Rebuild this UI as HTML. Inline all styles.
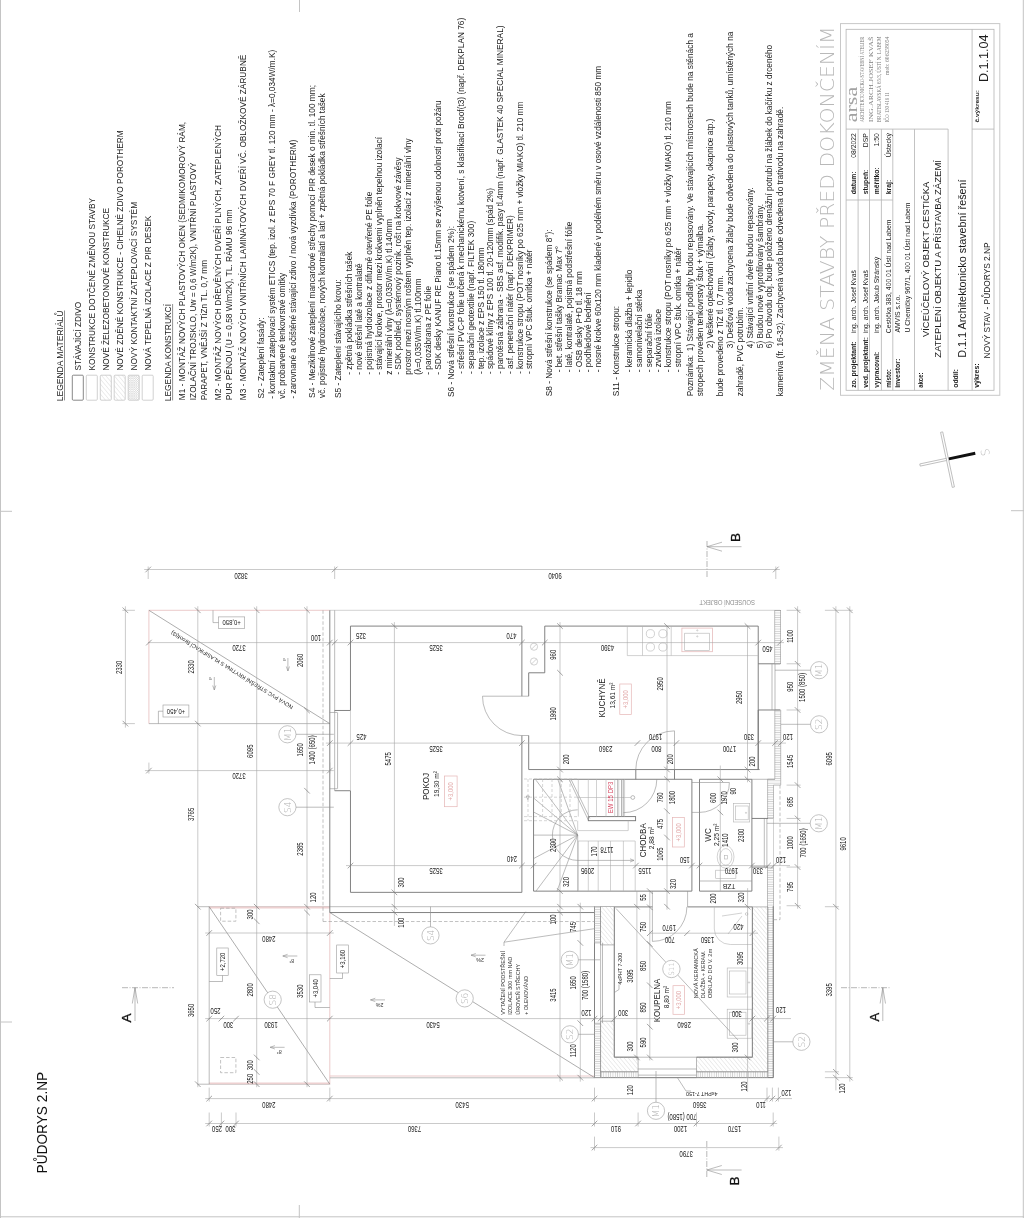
<!DOCTYPE html>
<html lang="cs"><head><meta charset="utf-8"><title>PŮDORYS 2.NP</title>
<style>
html,body{margin:0;padding:0;background:#fff}
svg{display:block;opacity:.999;will-change:transform}
text{font-family:"Liberation Sans",sans-serif;fill:#1c1c1c}
path,rect,circle,ellipse{fill:none}
.t{stroke:#8f8f8f;stroke-width:.6}
.g{stroke:#b4b4b4;stroke-width:.6}
.w{stroke:#747474;stroke-width:.9}
.m{stroke:#777;stroke-width:.6}
.d{stroke:#a6a6a6;stroke-width:.6}
.k{stroke:#666;stroke-width:.6}
.pk{stroke:#e6bcbc;stroke-width:.8}
.pk2{stroke:#edd0d0;stroke-width:1.8}
.ds{stroke:#999;stroke-width:.6;stroke-dasharray:3.5 2}
.ds2{stroke:#bbb;stroke-width:.6;stroke-dasharray:3 2}
.dd{stroke:#888;stroke-width:.6;stroke-dasharray:6 1.5 1 1.5}
.bd{stroke:#c4c4c4;stroke-width:1}
.ul{stroke:#444;stroke-width:.6}
.lb0{stroke:#6a6a6a;stroke-width:.8}
.lb{stroke:#bdbdbd;stroke-width:.7}
.tb0{stroke:#c8c8c8;stroke-width:1}
.tb{stroke:#b4b4b4;stroke-width:.8}
.na{stroke:#aaa;stroke-width:.7;fill:#fff}
.rc{stroke:#aaa;stroke-width:.7;fill:#fff}
.rt{fill:#b0b0b0;font-family:"DejaVu Sans Light","DejaVu Sans","Liberation Sans",sans-serif;font-weight:200}
.tg{stroke:#9a9a9a;stroke-width:.6;fill:#fff}
.tgp{stroke:#e5b5b5;stroke-width:.7;fill:#fff}
.pkt{fill:#e2a9a9}
.rd{fill:#d6455f}
.ins{stroke:#949494;stroke-width:.6;fill:url(#hi)}
.insh{stroke:#949494;stroke-width:.6;fill:url(#hj)}
.hm{stroke:#8a8a8a;stroke-width:.6;fill:url(#hd)}
.b{font-weight:bold}
.big{fill:#b9b9b9;font-family:"DejaVu Sans Light","DejaVu Sans","Liberation Sans",sans-serif;font-weight:200}
.lg{fill:#7d7d7d;font-family:"Liberation Serif",serif}
.lg2{fill:#a2a2a2;font-family:"Liberation Serif",serif}
.gy{fill:#a8a8a8}
.gy2{fill:#8e8e8e}
.sm{fill:#333}
.sm2{fill:#222}
.sec{fill:#111;stroke:#111;stroke-width:.3}
.ttl{fill:#111}
</style></head>
<body>
<svg width="1024" height="1218" viewBox="0 0 1024 1218">
<defs>
<pattern id="hd" width="3.2" height="3.2" patternUnits="userSpaceOnUse" patternTransform="rotate(50)"><rect width="3.2" height="3.2" fill="#fff"/><path d="M0 0H3.2" stroke="#c4c4c4" stroke-width=".6"/></pattern>
<pattern id="hx" width="2.2" height="2.2" patternUnits="userSpaceOnUse"><rect width="2.2" height="2.2" fill="#fff"/><path d="M0 0L2.2 2.2M2.2 0L0 2.2" stroke="#cdcdcd" stroke-width=".45"/></pattern>
<pattern id="hi" width="2.3" height="2.3" patternUnits="userSpaceOnUse"><rect width="2.3" height="2.3" fill="#fff"/><path d="M0 1.15H2.3" stroke="#cfcfcf" stroke-width=".9"/></pattern>
<pattern id="hj" width="2.3" height="2.3" patternUnits="userSpaceOnUse"><rect width="2.3" height="2.3" fill="#fff"/><path d="M1.15 0V2.3" stroke="#cfcfcf" stroke-width=".9"/></pattern>
</defs>
<g class="bd">
<path class="bd" d="M0.5 0L0.5 1218"/>
<path class="bd" d="M0 1216.8L1024 1216.8"/>
<path class="bd" d="M1023.3 0L1023.3 1218"/>
<path class="bd" d="M0 511.3L12 511.3"/>
<path class="bd" d="M0 1022L12 1022"/>
<path class="bd" d="M1011 510.7L1024 510.7"/>
<path class="bd" d="M299.5 0L299.5 12"/>
<path class="bd" d="M299.3 1205L299.3 1218"/>
</g>
<text transform="translate(62.9 401.3) rotate(-90)" font-size="8.28" textLength="90.8" lengthAdjust="spacingAndGlyphs">LEGENDA MATERIÁLŮ</text>
<path class="ul" d="M64.5 400.4L64.5 310.5"/>
<text transform="translate(81.3 370.6) rotate(-90)" font-size="8.28">STÁVAJÍCÍ ZDIVO</text>
<rect class="lb0" x="72.3" y="375.2" width="11" height="25" rx="1"/>
<text transform="translate(95.15 370.6) rotate(-90)" font-size="8.28" textLength="172.6" lengthAdjust="spacingAndGlyphs">KONSTRUKCE DOTČENÉ ZMĚNOU STAVBY</text>
<rect class="lb" x="86.3" y="375.2" width="11" height="25" rx="1"/>
<text transform="translate(109 370.6) rotate(-90)" font-size="8.28" textLength="162.6" lengthAdjust="spacingAndGlyphs">NOVÉ ŽELEZOBETONOVÉ KONSTRUKCE</text>
<rect class="lb" x="100.3" y="375.2" width="11" height="25" rx="1" style="fill:url(#hd)"/>
<text transform="translate(122.85 370.6) rotate(-90)" font-size="8.28" textLength="240.3" lengthAdjust="spacingAndGlyphs">NOVÉ ZDĚNÉ KONSTRUKCE - CIHELNÉ ZDIVO POROTHERM</text>
<rect class="lb" x="114.2" y="375.2" width="11" height="25" rx="1" style="fill:url(#hd)"/>
<text transform="translate(136.7 370.6) rotate(-90)" font-size="8.28" textLength="168.7" lengthAdjust="spacingAndGlyphs">NOVÝ KONTAKTNÍ ZATEPLOVACÍ SYSTÉM</text>
<rect class="lb" x="128.2" y="375.2" width="11" height="25" rx="1" style="fill:url(#hx)"/>
<text transform="translate(150.55 370.6) rotate(-90)" font-size="8.28" textLength="154.8" lengthAdjust="spacingAndGlyphs">NOVÁ TEPELNÁ IZOLACE Z PIR DESEK</text>
<rect class="lb" x="142.2" y="375.2" width="11" height="25" rx="1"/>
<text transform="translate(171 401.3) rotate(-90)" font-size="8.28" textLength="97.3" lengthAdjust="spacingAndGlyphs">LEGENDA KONSTRUKCÍ</text>
<path class="ul" d="M172.6 400.4L172.6 304"/>
<text transform="translate(185 400.2) rotate(-90)" font-size="8.28" textLength="278.3" lengthAdjust="spacingAndGlyphs">M1 - MONTÁŽ NOVÝCH PLASTOVÝCH OKEN (SEDMIKOMOROVÝ RÁM,</text>
<text transform="translate(195.7 400.2) rotate(-90)" font-size="8.28" textLength="237.7" lengthAdjust="spacingAndGlyphs">IZOLAČNÍ TROJSKLO, Uw = 0,6 W/m2K), VNITŘNÍ PLASTOVÝ</text>
<text transform="translate(206.6 400.2) rotate(-90)" font-size="8.28">PARAPET, VNĚJŠÍ Z TiZn TL. 0,7 mm</text>
<text transform="translate(221.2 400.2) rotate(-90)" font-size="8.28" textLength="275.2" lengthAdjust="spacingAndGlyphs">M2 - MONTÁŽ NOVÝCH DŘEVĚNÝCH DVEŘÍ PLNÝCH, ZATEPLENÝCH</text>
<text transform="translate(231.9 400.2) rotate(-90)" font-size="8.28" textLength="190.7" lengthAdjust="spacingAndGlyphs">PUR PĚNOU (U = 0,58 W/m2K), TL. RÁMU 96 mm</text>
<text transform="translate(245.5 400.2) rotate(-90)" font-size="8.28" textLength="345.6" lengthAdjust="spacingAndGlyphs">M3 - MONTÁŽ NOVÝCH VNITŘNÍCH LAMINÁTOVÝCH DVEŘÍ VČ. OBLOŽKOVÉ ZÁRUBNĚ</text>
<text transform="translate(263.9 398.4) rotate(-90)" font-size="8.28">S2 - Zateplení fasády:</text>
<text transform="translate(274.7 398.7) rotate(-90)" font-size="8.28" textLength="348.9" lengthAdjust="spacingAndGlyphs">- kontaktní zateplovací systém ETICS (tep. izol. z EPS 70 F GREY tl. 120 mm - λ=0,034W/m.K)</text>
<text transform="translate(285.3 398.7) rotate(-90)" font-size="8.28">vč. probarvené tenkovrstvé omítky</text>
<text transform="translate(296 398.7) rotate(-90)" font-size="8.28" textLength="259" lengthAdjust="spacingAndGlyphs">- zarovnané a očištěné stávající zdivo / nová vyzdívka (POROTHERM)</text>
<text transform="translate(315.2 397.9) rotate(-90)" font-size="8.28" textLength="312.9" lengthAdjust="spacingAndGlyphs">S4 - Mezikilnové zateplení mancardové střechy pomocí PIR desek o min. tl. 100 mm;</text>
<text transform="translate(325.3 397.9) rotate(-90)" font-size="8.28" textLength="304.5" lengthAdjust="spacingAndGlyphs">vč. pojistné hydroizolace, nových kontralatí a latí + zpětná pokládka střešních tašek</text>
<text transform="translate(341.4 397.9) rotate(-90)" font-size="8.28">S5 - Zateplení stávajícího krovu:</text>
<text transform="translate(352.3 374.7) rotate(-90)" font-size="8.28">- zpětná pokládka střešních tašek</text>
<text transform="translate(362.11 374.7) rotate(-90)" font-size="8.28">- nové střešní latě a kontralatě</text>
<text transform="translate(371.92 374.7) rotate(-90)" font-size="8.28" textLength="183" lengthAdjust="spacingAndGlyphs">- pojistná hydroizolace z difuzně otevřené PE folie</text>
<text transform="translate(381.73 374.7) rotate(-90)" font-size="8.28" textLength="237.7" lengthAdjust="spacingAndGlyphs">- stávající krokve, prostor mezi krokvemi vyplněn tepelnou izolací</text>
<text transform="translate(391.54 374.7) rotate(-90)" font-size="8.28">z minerální vlny (λ=0,035W/m.K) tl.140mm</text>
<text transform="translate(401.35 374.7) rotate(-90)" font-size="8.28" textLength="217.3" lengthAdjust="spacingAndGlyphs">- SDK podhled, systémový pozink. rošt na krokvové závěsy</text>
<text transform="translate(411.16 374.7) rotate(-90)" font-size="8.28" textLength="236.3" lengthAdjust="spacingAndGlyphs">prostor mezi nosným roštem vyplněn tep. izolací z minerální vlny</text>
<text transform="translate(420.97 374.7) rotate(-90)" font-size="8.28">(λ=0,035W/m.K) tl.100mm</text>
<text transform="translate(430.78 374.7) rotate(-90)" font-size="8.28">- parozábrana z PE folie</text>
<text transform="translate(440.59 374.7) rotate(-90)" font-size="8.28" textLength="274.4" lengthAdjust="spacingAndGlyphs">- SDK desky KANUF RE Piano tl.15mm se zvýšenou odolností proti požáru</text>
<text transform="translate(454.4 396.9) rotate(-90)" font-size="8.28">S6 - Nová střešní konstrukce (se spádem 2%):</text>
<text transform="translate(464.3 374.1) rotate(-90)" font-size="8.28" textLength="356.3" lengthAdjust="spacingAndGlyphs">- střešní PVC-P folie určená k mechanickému kotvení, s klasifikací Broof(t3) (např. DEKPLAN 76)</text>
<text transform="translate(474.02 374.1) rotate(-90)" font-size="8.28">- separační geotextilie (např. FILTEK 300)</text>
<text transform="translate(483.74 374.1) rotate(-90)" font-size="8.28">- tep. izolace z EPS 150 tl. 180mm</text>
<text transform="translate(493.46 374.1) rotate(-90)" font-size="8.28" textLength="186.1" lengthAdjust="spacingAndGlyphs">- spádové klíny z EPS 100 tl. 20-120mm (spád 2%)</text>
<text transform="translate(503.18 374.1) rotate(-90)" font-size="8.28" textLength="348.7" lengthAdjust="spacingAndGlyphs">- parotěsná zábrana - SBS asf. modifik. pasy tl.4mm (např. GLASTEK 40 SPECIAL MINERAL)</text>
<text transform="translate(512.9 374.1) rotate(-90)" font-size="8.28">- asf. penetrační nátěr (např. DEKPRIMER)</text>
<text transform="translate(522.62 374.1) rotate(-90)" font-size="8.28" textLength="272.5" lengthAdjust="spacingAndGlyphs">- konstrukce stropu (POT nosníky po 625 mm + vložky MIAKO) tl. 210 mm</text>
<text transform="translate(532.34 374.1) rotate(-90)" font-size="8.28">- stropní VPC štuk. omítka + nátěr</text>
<text transform="translate(552 396.2) rotate(-90)" font-size="8.28">S8 - Nová střešní konstrukce (se spádem 8°):</text>
<text transform="translate(561.9 372.3) rotate(-90)" font-size="8.28">- bet. střešní tašky Bramac Max 7°</text>
<text transform="translate(571.7 372.3) rotate(-90)" font-size="8.28">- latě, kontralatě, pojistná podstřešní fólie</text>
<text transform="translate(581.5 372.3) rotate(-90)" font-size="8.28">- OSB desky P+D tl. 18 mm</text>
<text transform="translate(591.3 372.3) rotate(-90)" font-size="8.28">- podhledové bednění</text>
<text transform="translate(601.1 372.3) rotate(-90)" font-size="8.28" textLength="306.4" lengthAdjust="spacingAndGlyphs">- nosné krokve 60x120 mm kladené v podélném směru v osové vzdálenosti 850 mm</text>
<text transform="translate(619.3 396.2) rotate(-90)" font-size="8.28">S11 - Konstrukce stropu:</text>
<text transform="translate(632.2 372.3) rotate(-90)" font-size="8.28">- keramická dlažba + lepidlo</text>
<text transform="translate(641.9 372.3) rotate(-90)" font-size="8.28">- samonivelační stěrka</text>
<text transform="translate(651.6 372.3) rotate(-90)" font-size="8.28">- separační fólie</text>
<text transform="translate(661.3 372.3) rotate(-90)" font-size="8.28">- zvuková izolace</text>
<text transform="translate(671 372.3) rotate(-90)" font-size="8.28" textLength="271.3" lengthAdjust="spacingAndGlyphs">- konstrukce stropu (POT nosníky po 625 mm + vložky MIAKO) tl. 210 mm</text>
<text transform="translate(680.7 372.3) rotate(-90)" font-size="8.28">- stropní VPC štuk. omítka + nátěr</text>
<text transform="translate(693.4 396.2) rotate(-90)" font-size="8.28">Poznámka:</text>
<text transform="translate(693.4 351.2) rotate(-90)" font-size="8.28" textLength="318.2" lengthAdjust="spacingAndGlyphs">1) Stávající podlahy budou repasovány. Ve stávajících místnostech bude na stěnách a</text>
<text transform="translate(703.4 396.2) rotate(-90)" font-size="8.28">stropech proveden tenkovrstvý štuk + výmalba.</text>
<text transform="translate(713.4 348.2) rotate(-90)" font-size="8.28" textLength="229.6" lengthAdjust="spacingAndGlyphs">2) Veškeré oplechování (žlaby, svody, parapety, okapnice atp.)</text>
<text transform="translate(723.3 396.2) rotate(-90)" font-size="8.28">bude provedeno z TiZ tl. 0,7 mm.</text>
<text transform="translate(733.3 348.2) rotate(-90)" font-size="8.28" textLength="316.6" lengthAdjust="spacingAndGlyphs">3) Dešťová voda zachycena žlaby bude odvedena do plastových tanků, umístěných na</text>
<text transform="translate(743.2 396.2) rotate(-90)" font-size="8.28">zahradě, PVC potrubím.</text>
<text transform="translate(752.8 348.2) rotate(-90)" font-size="8.28" textLength="161" lengthAdjust="spacingAndGlyphs">4) Stávající vnitřní dveře budou repasovány.</text>
<text transform="translate(762.5 348.2) rotate(-90)" font-size="8.28" textLength="144.2" lengthAdjust="spacingAndGlyphs">5) Budou nově vyprofilovány šambrány.</text>
<text transform="translate(772.2 348.2) rotate(-90)" font-size="8.28" textLength="303.4" lengthAdjust="spacingAndGlyphs">6) Po obvodu obj. bude položeno drenážní potrubí na žlábek do kačírku z drceného</text>
<text transform="translate(783 396.2) rotate(-90)" font-size="8.28" textLength="289.4" lengthAdjust="spacingAndGlyphs">kameniva (fr. 16-32). Zachycená voda bude odvedena do trativodu na zahradě.</text>
<text transform="translate(833.8 390.8) rotate(-90)" font-size="19.6" class="big" textLength="364.5" lengthAdjust="spacingAndGlyphs">ZMĚNA STAVBY PŘED DOKONČENÍM</text>
<rect class="tb0" x="840.5" y="23.6" width="159.3" height="371.7"/>
<rect class="tb" x="846.1" y="29.3" width="147.9" height="361"/>
<path class="tb" d="M858.1 129.1L858.1 390.3"/>
<path class="tb" d="M869.5 129.1L869.5 390.3"/>
<path class="tb" d="M881.4 129.1L881.4 390.3"/>
<path class="tb" d="M892.8 129.1L892.8 390.3"/>
<path class="tb" d="M914.5 129.1L914.5 390.3"/>
<path class="tb" d="M948.1 129.1L948.1 390.3"/>
<path class="tb" d="M972.1 29.3L972.1 390.3"/>
<path class="tb" d="M846.1 129.1L948.1 129.1"/>
<path class="tb" d="M972.1 129.1L994 129.1"/>
<path class="tb" d="M846.1 200L892.8 200"/>
<text transform="translate(856.3 387.8) rotate(-90)" font-size="6.8" class="b" textLength="46.6" lengthAdjust="spacingAndGlyphs">zo. projektant:</text>
<text transform="translate(856.3 333.2) rotate(-90)" font-size="6.8">ing. arch. Josef Kvaš</text>
<text transform="translate(856.3 194.2) rotate(-90)" font-size="6.8" class="b">datum:</text>
<text transform="translate(856.3 133.2) rotate(-90)" font-size="6.8" text-anchor="end">08/2022</text>
<text transform="translate(867.7 387.8) rotate(-90)" font-size="6.8" class="b" textLength="50.7" lengthAdjust="spacingAndGlyphs">ved. projektant:</text>
<text transform="translate(867.7 333.2) rotate(-90)" font-size="6.8">ing. arch. Josef Kvaš</text>
<text transform="translate(867.7 194.2) rotate(-90)" font-size="6.8" class="b">stupeň:</text>
<text transform="translate(867.7 133.2) rotate(-90)" font-size="6.8" text-anchor="end">DSP</text>
<text transform="translate(879.1 387.8) rotate(-90)" font-size="6.8" class="b" textLength="35.9" lengthAdjust="spacingAndGlyphs">vypracoval:</text>
<text transform="translate(879.1 333.2) rotate(-90)" font-size="6.8">ing. arch. Jakub Stránský</text>
<text transform="translate(879.1 194.2) rotate(-90)" font-size="6.8" class="b">měřítko:</text>
<text transform="translate(879.1 133.2) rotate(-90)" font-size="6.8" text-anchor="end">1:50</text>
<text transform="translate(890.5 387.8) rotate(-90)" font-size="6.8" class="b" textLength="18.7" lengthAdjust="spacingAndGlyphs">místo:</text>
<text transform="translate(890.5 333.2) rotate(-90)" font-size="6.8">Cestička 383, 400 01 Ústí nad Labem</text>
<text transform="translate(890.5 194.2) rotate(-90)" font-size="6.8" class="b">kraj:</text>
<text transform="translate(890.5 133.2) rotate(-90)" font-size="6.8" text-anchor="end">Ústecký</text>
<text transform="translate(900.4 387.8) rotate(-90)" font-size="6.8" class="b" textLength="29" lengthAdjust="spacingAndGlyphs">investor:</text>
<text transform="translate(900.4 332.6) rotate(-90)" font-size="6.8">AMVIS s.r.o.</text>
<text transform="translate(910 332.6) rotate(-90)" font-size="6.8">U Chemičky 967/1, 400 01 Ústí nad Labem</text>
<text transform="translate(923.2 387.8) rotate(-90)" font-size="6.8" class="b" textLength="15.3" lengthAdjust="spacingAndGlyphs">akce:</text>
<text transform="translate(929 337) rotate(-90)" font-size="9.6" textLength="155.3" lengthAdjust="spacingAndGlyphs">VÍCEÚČELOVÝ OBJEKT CESTIČKA</text>
<text transform="translate(940.8 357.7) rotate(-90)" font-size="9.6" textLength="197.7" lengthAdjust="spacingAndGlyphs">ZATEPLENÍ OBJEKTU A PŘÍSTAVBA ZÁZEMÍ</text>
<text transform="translate(958 387.8) rotate(-90)" font-size="6.8" class="b" textLength="18.7" lengthAdjust="spacingAndGlyphs">oddíl:</text>
<text transform="translate(965.5 357.7) rotate(-90)" font-size="11" textLength="178.3" lengthAdjust="spacingAndGlyphs">D.1.1 Architektonicko stavební řešení</text>
<text transform="translate(978.5 387.8) rotate(-90)" font-size="6.8" class="b" textLength="24.5" lengthAdjust="spacingAndGlyphs">výkres:</text>
<text transform="translate(989.5 358.4) rotate(-90)" font-size="8.5" textLength="116.1" lengthAdjust="spacingAndGlyphs">NOVÝ STAV - PŮDORYS 2.NP</text>
<text transform="translate(978.7 122.6) rotate(-90)" font-size="5.8" class="b" textLength="32.6" lengthAdjust="spacingAndGlyphs">č.výkresu:</text>
<text transform="translate(988.4 82.1) rotate(-90)" font-size="12.9" textLength="47.6" lengthAdjust="spacingAndGlyphs">D.1.1.04</text>
<text transform="translate(857.4 122.3) rotate(-90)" font-size="17" class="lg2" textLength="35.5" lengthAdjust="spacingAndGlyphs">arsa</text>
<text transform="translate(863.8 122.3) rotate(-90)" font-size="6.2" class="lg" textLength="85.7" lengthAdjust="spacingAndGlyphs">ARCHITEKTONICKO-STAVEBNÍ ATELIER</text>
<text transform="translate(872.5 122.3) rotate(-90)" font-size="6.6" class="lg" textLength="85.7" lengthAdjust="spacingAndGlyphs">ING.ARCH.JOSEF KVAŠ</text>
<text transform="translate(880.9 122.3) rotate(-90)" font-size="6.2" class="lg" textLength="85.7" lengthAdjust="spacingAndGlyphs">BRATISLAVSKÁ 65/3, ÚSTÍ N. LABEM</text>
<text transform="translate(888.9 122.3) rotate(-90)" font-size="6.2" class="lg" textLength="30" lengthAdjust="spacingAndGlyphs">IČO 130 416 11</text>
<text transform="translate(888.9 75) rotate(-90)" font-size="6.2" class="lg" textLength="38.4" lengthAdjust="spacingAndGlyphs">mob: 606258054</text>
<g transform="translate(947.4 459.2) rotate(-12)">
<rect class="na" x="-1.1" y="-27.7" width="2.2" height="56.3"/>
<rect class="na" x="-28" y="-1.1" width="27" height="2.2"/>
<rect x="1.5" y="-1.5" width="27" height="3" style="fill:#111"/>
</g>
<text transform="translate(989.3 451.5) rotate(-102)" font-size="11.5" text-anchor="middle" class="big">S</text>
<path class="pk" d="M148.9 723.61L148.9 610.3L329.8 610.3"/>
<path class="t" d="M148.9 723.61L329.8 723.61"/>
<path class="m" d="M148.9 610.3L329.8 723.61"/>
<text transform="translate(293.5 706.2) rotate(212)" font-size="5.4" class="sm2" textLength="142.7" lengthAdjust="spacingAndGlyphs">NOVÁ PVC STŘEŠNÍ KRYTINA S KLASIFIKACÍ Broof(t3)</text>
<rect class="tg" x="218.6" y="616.9" width="26.1" height="11.5"/>
<text transform="translate(231.65 620.15) rotate(180) scale(0.85 1)" font-size="7" text-anchor="middle">+0,850</text>
<path class="t" d="M213 610.3L213 622.6L218.6 622.6"/>
<rect class="tg" x="163" y="705" width="25.9" height="12"/>
<text transform="translate(175.95 708.5) rotate(180) scale(0.85 1)" font-size="7" text-anchor="middle">+0,450</text>
<path class="t" d="M158.4 723.61L158.4 711.2L163 711.2"/>
<path class="t" d="M287.9 658L287.9 671"/>
<path class="t" d="M286.3 666.5L287.9 671L289.5 666.5"/>
<text transform="translate(285.7 659.5) rotate(-90) scale(0.71 1)" font-size="4.2" text-anchor="middle" class="sm">8°</text>
<path class="t" d="M214.3 677L214.3 690"/>
<path class="t" d="M212.7 685.5L214.3 690L215.9 685.5"/>
<text transform="translate(212.1 678.5) rotate(-90) scale(0.71 1)" font-size="4.2" text-anchor="middle" class="sm">8°</text>
<path class="t" d="M197.8 906.7L329.8 906.7"/>
<path class="t" d="M197.8 1084.2L329.8 1084.2"/>
<path class="pk2" d="M209.2 907.5L329.8 907.5"/>
<path class="pk2" d="M209.2 1083.4L329.8 1083.4"/>
<path class="t" d="M209.2 906.7L209.2 1084.2"/>
<path class="pk" d="M329.8 912.54L329.8 1084.2"/>
<path class="m" d="M209.2 906.7L329.8 1084.2"/>
<rect class="ds" x="220.6" y="908.2" width="15.3" height="13"/>
<rect class="ds" x="220.6" y="1057.5" width="15.3" height="15.2"/>
<rect class="tg" x="216.8" y="948" width="11.4" height="27.5"/>
<text transform="translate(225 961.75) rotate(-90) scale(0.85 1)" font-size="7" text-anchor="middle">+2,720</text>
<path class="t" d="M209.2 981.5L222.5 981.5L222.5 975.5"/>
<rect class="tg" x="336.7" y="945" width="11.7" height="28"/>
<text transform="translate(345.05 959) rotate(-90) scale(0.85 1)" font-size="7" text-anchor="middle">+3,160</text>
<path class="t" d="M329.8 978.5L342.5 978.5L342.5 973"/>
<rect class="tg" x="309.5" y="974.8" width="11.5" height="27.2"/>
<text transform="translate(317.75 988.4) rotate(-90) scale(0.85 1)" font-size="7" text-anchor="middle">+3,040</text>
<path class="t" d="M329.8 1007.5L315 1007.5L315 1002"/>
<path class="t" d="M297.3 956L282.8 956"/>
<path class="t" d="M287.6 954.3L282.8 956L287.6 957.7"/>
<text transform="translate(291.8 959) rotate(180) scale(0.9 1)" font-size="6" text-anchor="middle" class="sm">8°</text>
<path class="t" d="M284.6 1047.3L270.1 1047.3"/>
<path class="t" d="M274.9 1045.6L270.1 1047.3L274.9 1049"/>
<text transform="translate(279.1 1050.3) rotate(180) scale(0.9 1)" font-size="6" text-anchor="middle" class="sm">8°</text>
<path class="t" d="M485.5 955.2L471 955.2"/>
<path class="t" d="M475.8 953.5L471 955.2L475.8 956.9"/>
<text transform="translate(480 958.2) rotate(180) scale(0.9 1)" font-size="6" text-anchor="middle" class="sm">2%</text>
<path class="t" d="M385 999.9L370.5 999.9"/>
<path class="t" d="M375.3 998.2L370.5 999.9L375.3 1001.6"/>
<text transform="translate(379.5 1002.9) rotate(180) scale(0.9 1)" font-size="6" text-anchor="middle" class="sm">2%</text>
<path class="pk" d="M329.8 1076L594.5 1076"/>
<path class="t" d="M329.8 1077.8L594.5 1077.8"/>
<path class="m" d="M329.8 912.54L594.5 1077.63"/>
<path class="ds" d="M323 921.53L594.5 921.53"/>
<path class="ds" d="M323 610.3L323 921.53"/>
<text transform="translate(505.2 1014.8) rotate(-90)" font-size="5.3" class="sm" textLength="63.9" lengthAdjust="spacingAndGlyphs">VYTAŽENÍ PODSTŘEŠNÍ</text>
<text transform="translate(512.2 1014.8) rotate(-90)" font-size="5.3" class="sm" textLength="58" lengthAdjust="spacingAndGlyphs">IZOLACE 300 mm NAD</text>
<text transform="translate(519.8 1014.8) rotate(-90)" font-size="5.3" class="sm" textLength="51" lengthAdjust="spacingAndGlyphs">ÚROVEŇ STŘECHY</text>
<text transform="translate(527.5 1014.8) rotate(-90)" font-size="5.3" class="sm" textLength="38.7" lengthAdjust="spacingAndGlyphs">+ OLEMOVÁNO</text>
<path class="t" d="M504 946L504 942.2"/>
<path class="t" d="M504 942.2L525.7 911.7"/>
<path class="t" d="M504 942.2L594.3 928.7"/>
<path class="g" d="M329.8 610.3L780.12 610.3"/>
<path class="w" d="M329.8 610.3L329.8 912.54"/>
<path class="t" d="M334.67 610.3L334.67 711.48"/>
<path class="t" d="M329.8 906.7L594.5 906.7"/>
<path class="w" d="M329.8 912.54L594.5 912.54"/>
<path class="w" d="M350.47 710.48L350.47 626.1L521.89 626.1L521.89 696.2"/>
<path class="w" d="M521.89 735.5L521.89 892.35L350.47 892.35L350.47 790.72"/>
<path class="w" d="M350.47 710.48L334.67 710.48"/>
<path class="w" d="M350.47 790.72L334.67 790.72"/>
<path class="t" d="M334.67 710.48L334.67 790.72"/>
<path class="t" d="M337.57 712.48L337.57 788.72"/>
<path class="g" d="M350.47 710.48L350.47 790.72"/>
<path class="t" d="M329.8 712.48L337.27 712.48"/>
<path class="t" d="M329.8 788.72L337.27 788.72"/>
<path class="t" d="M482.5 696.2L528.7 696.2"/>
<path class="t" d="M521.89 735.5L528.7 735.5"/>
<path class="t" d="M482.49 696.2A39.4 39.4 0 0 0 521.89 735.6"/>
<path class="w" d="M544.75 626.1L758.23 626.1L758.23 769.56L528.7 769.56L528.7 735.5"/>
<path class="w" d="M528.7 696.2L528.7 672.79L544.75 672.79L544.75 626.1"/>
<path class="g" d="M627.3 655.6L758.23 655.6"/>
<path class="g" d="M627.3 626.1L627.3 655.6"/>
<path class="g" d="M642.5 626.1L642.5 655.6"/>
<path class="g" d="M671.2 626.1L671.2 655.6"/>
<circle class="g" cx="650.4" cy="633.7" r="4.1"/>
<circle class="g" cx="650.4" cy="647" r="4.1"/>
<circle class="g" cx="662.9" cy="633.7" r="4.1"/>
<circle class="g" cx="662.9" cy="647" r="4.1"/>
<rect class="pk" x="681.9" y="628.1" width="30.5" height="23.6"/>
<rect class="g" x="684.7" y="633.2" width="24.9" height="17.2"/>
<circle class="g" cx="697.3" cy="630.4" r="0.6"/>
<circle class="g" cx="697.3" cy="636.4" r="0.6"/>
<circle class="g" cx="534" cy="646.7" r="3.6"/>
<path class="g" d="M531.5 649.2L536.5 644.2"/>
<circle class="g" cx="534" cy="661.5" r="3.6"/>
<path class="g" d="M531.5 664L536.5 659"/>
<text transform="translate(755 600.2) rotate(180)" font-size="6.3" class="gy2" textLength="55.7" lengthAdjust="spacingAndGlyphs">SOUSEDNÍ OBJEKT</text>
<path class="w" d="M758.23 663.79L780.12 663.79"/>
<path class="w" d="M758.23 709.99L780.12 709.99"/>
<path class="w" d="M758.23 769.56L758.23 709.99"/>
<path class="t" d="M772 663.79L772 709.99"/>
<path class="t" d="M775 663.79L775 709.99"/>
<rect class="ins" x="774.8" y="610.3" width="5.9" height="53.49"/>
<path class="ins" d="M774.8 709.99L780.7 709.99L780.7 785.12L773.5 785.12L773.5 818.44L767.6 818.44L767.6 779.2L774.8 779.2Z"/>
<rect class="ins" x="767.6" y="867.07" width="5.9" height="210.57"/>
<path class="t" d="M764.3 818.44L764.3 867.07"/>
<path class="t" d="M766.9 818.44L766.9 867.07"/>
<path class="g" d="M773.5 818.44L773.5 867.07"/>
<path class="ds" d="M780 785.12L780 919.7L774 919.7"/>
<path class="w" d="M533.56 779.29L691.9 779.29L691.9 891.14L533.56 891.14Z"/>
<path class="w" d="M635.8 769.56L635.8 779.29"/>
<path class="w" d="M674.5 769.56L674.5 779.29"/>
<path class="t" d="M674.5 730.86A38.7 38.7 0 0 0 635.8 769.56"/>
<path class="t" d="M674.5 769.56L674.5 730.86"/>
<rect class="w" x="588.3" y="816.6" width="47.3" height="4.1"/>
<path class="g" d="M577.7 820.7L577.7 830.6L628.2 830.6L628.2 820.7"/>
<path class="t" d="M577.7 835.1L536 780.2"/>
<path class="t" d="M577.7 835.1L557.8 779.29"/>
<path class="t" d="M577.7 835.1L533.56 812"/>
<path class="t" d="M577.7 835.1L533.56 835.1"/>
<path class="t" d="M577.7 835.1L533.56 858.6"/>
<path class="t" d="M577.7 835.1L536 891.14"/>
<path class="t" d="M577.7 835.1L557 891.14"/>
<path class="t" d="M577.7 835.1L577.7 891.14"/>
<path class="t" d="M577.7 835.1L533.56 798"/>
<path class="t" d="M569 779.29L588.3 820.1"/>
<path class="t" d="M571 779.29L589.9 818.4"/>
<path class="g" d="M578.3 779.29L578.3 816.6"/>
<path class="g" d="M588.3 779.29L588.3 816.6"/>
<path class="g" d="M596.5 779.29L596.5 816.6"/>
<path class="g" d="M606 779.29L606 816.6"/>
<path class="g" d="M614.7 779.29L614.7 816.6"/>
<path class="g" d="M618.8 779.29L618.8 816.6"/>
<path class="g" d="M621.7 779.29L621.7 816.6"/>
<path class="g" d="M624.6 779.29L624.6 816.6"/>
<path class="g" d="M578.3 841L578.3 891.14"/>
<path class="g" d="M588.3 841L588.3 891.14"/>
<path class="g" d="M598.2 841L598.2 891.14"/>
<path class="g" d="M610.5 841L610.5 891.14"/>
<path class="g" d="M623.4 841L623.4 891.14"/>
<path class="g" d="M635.2 841L635.2 891.14"/>
<path class="g" d="M577.7 841L635.2 841"/>
<path class="t" d="M577.7 860.4A25.3 25.3 0 0 1 577.7 809.8"/>
<path class="t" d="M577.7 860.4L634 860.4"/>
<path class="t" d="M630 858.8L634 860.4L630 862"/>
<circle class="t" cx="632.8" cy="797.5" r="1.9"/>
<path class="g" d="M578 797.5L630.9 797.5"/>
<path class="ds2" d="M524 779L578 779"/>
<path class="ds2" d="M524 797.2L578 797.2"/>
<path class="ds2" d="M524 816.6L578 816.6"/>
<path class="ds2" d="M524 820.7L578 820.7"/>
<path class="ds2" d="M528 779L528 820.7"/>
<path class="ds2" d="M542.6 779L542.6 816.6"/>
<path class="ds2" d="M552 779L552 816.6"/>
<path class="ds2" d="M561.3 779L561.3 816.6"/>
<path class="ds2" d="M570 779L570 816.6"/>
<path class="t" d="M529.3 796L527.8 799.5L526.3 796Z"/>
<path class="t" d="M656.8 779.29A33.4 33.4 0 0 1 623.4 812.69"/>
<path class="t" d="M617.6 779.29L617.6 816.6"/>
<path class="t" d="M621.7 779.29L621.7 816.6"/>
<path class="t" d="M623.4 779.29L623.4 816.6"/>
<text transform="translate(613.1 797.4) rotate(-90) scale(0.88 1)" font-size="6.9" text-anchor="middle" class="rd">EW 15 DP3</text>
<text transform="translate(646 840.3) rotate(-90) scale(0.95 1)" font-size="8.4" text-anchor="middle">CHODBA</text>
<text transform="translate(653.6 838) rotate(-90) scale(0.92 1)" font-size="7.2" text-anchor="middle">2,88 m²</text>
<rect class="tgp" x="672.6" y="817.5" width="11.7" height="29.5"/>
<text transform="translate(680.95 832.25) rotate(-90) scale(0.85 1)" font-size="7" text-anchor="middle" class="pkt">+3,000</text>
<text transform="translate(596.8 851.4) rotate(-90) scale(0.71 1)" font-size="8.5" text-anchor="middle">170</text>
<text transform="translate(607 847.4) rotate(180) scale(0.71 1)" font-size="8.5" text-anchor="middle">1178</text>
<path class="w" d="M699.5 779.29L751.9 779.29L751.9 891.14L699.5 891.14Z"/>
<path class="t" d="M691.9 782.5L699.5 782.5"/>
<path class="t" d="M691.9 812.4L699.5 812.4"/>
<path class="t" d="M729.4 782.5A29.9 29.9 0 0 1 699.5 812.4"/>
<path class="t" d="M699.5 782.5L729.4 782.5"/>
<path class="t" d="M699.5 881L751.9 881"/>
<rect class="g" x="733.4" y="803.6" width="16.3" height="18.4"/>
<rect class="g" x="735.5" y="806" width="12.7" height="13.8"/>
<circle class="g" cx="746" cy="812.8" r="0.6"/>
<ellipse class="g" cx="725.6" cy="856.9" rx="8.4" ry="11.3"/>
<ellipse class="g" cx="725.8" cy="856.9" rx="6.1" ry="8.3"/>
<rect class="g" x="724.3" y="855.5" width="3" height="3.5"/>
<rect class="g" x="715.7" y="870.2" width="20.2" height="8.3"/>
<text transform="translate(729 883.5) rotate(180) scale(1 1)" font-size="6.6" text-anchor="middle">TZB</text>
<text transform="translate(711 835) rotate(-90) scale(0.95 1)" font-size="8.4" text-anchor="middle">WC</text>
<text transform="translate(718.6 834.8) rotate(-90) scale(0.92 1)" font-size="7.2" text-anchor="middle">2,25 m²</text>
<path class="w" d="M758.23 769.56L759.63 769.56"/>
<path class="t" d="M751.9 779.29L775 779.29"/>
<path class="w" d="M751.9 818.44L768 818.44"/>
<path class="w" d="M751.9 867.07L768 867.07"/>
<path class="t" d="M652.4 891.14L652.4 906.9"/>
<path class="t" d="M687.6 891.14L687.6 906.9"/>
<path class="w" d="M614.3 906.9L652.4 906.9"/>
<path class="w" d="M687.6 906.9L752.4 906.9"/>
<path class="w" d="M594.5 906.7L594.5 1077.63L773.2 1077.63L773.2 906.14"/>
<path class="w" d="M614.3 906.9L614.3 1057.2L638.1 1057.2"/>
<path class="w" d="M696.5 1057.2L752.4 1057.2L752.4 906.9"/>
<rect class="ins" x="594.5" y="906.7" width="6.1" height="36.23"/>
<rect class="ins" x="594.5" y="1023.17" width="6.1" height="54.47"/>
<rect class="insh" x="600.6" y="1071.83" width="37.5" height="5.8"/>
<rect class="insh" x="696.5" y="1071.83" width="71.5" height="5.8"/>
<rect class="hm" x="600.6" y="906.7" width="13.7" height="38.23"/>
<path class="hm" d="M600.6 1021.17L614.3 1021.17L614.3 1057.2L638.1 1057.2L638.1 1071.83L600.6 1071.83Z"/>
<path class="hm" d="M696.5 1057.2L752.4 1057.2L752.4 906.9L768 906.9L768 1071.83L696.5 1071.83Z"/>
<path class="t" d="M600.6 942.93L600.6 1023.17"/>
<path class="t" d="M602.5 942.93L602.5 1023.17"/>
<path class="t" d="M614.3 942.93L614.3 1023.17"/>
<path class="t" d="M638.1 1057.2L696.5 1057.2"/>
<path class="t" d="M638.1 1069L696.5 1069"/>
<path class="t" d="M638.1 1075.13L696.5 1075.13"/>
<path class="t" d="M638.1 1077.63L696.5 1077.63"/>
<path class="t" d="M686.9 906.9A34.5 34.5 0 0 1 652.4 941.4"/>
<path class="t" d="M652.4 906.9L652.4 941.4"/>
<path class="g" d="M714.3 906.9 L714.3 929 A16 15.5 0 0 0 730.3 944.5 L752.4 944.5"/>
<circle class="g" cx="746.6" cy="914" r="1.3"/>
<path class="g" d="M722 916L742 913"/>
<path class="g" d="M742 916L728 934"/>
<rect class="g" x="727.2" y="968" width="24.7" height="29"/>
<rect class="g" x="729.5" y="971" width="16.5" height="23"/>
<circle class="g" cx="749" cy="982.5" r="0.7"/>
<rect class="g" x="727.2" y="1009.2" width="24.7" height="29"/>
<rect class="g" x="729.5" y="1012.2" width="16.5" height="23"/>
<circle class="g" cx="749" cy="1023.7" r="0.7"/>
<path class="t" d="M616 908.5L738 1040"/>
<circle class="rc" cx="671.4" cy="969" r="8.7"/>
<text transform="translate(673.99 969) rotate(-90)" font-size="7.2" text-anchor="middle" class="rt">S11</text>
<text transform="translate(660.3 1000.5) rotate(-90) scale(0.95 1)" font-size="8.4" text-anchor="middle">KOUPELNA</text>
<text transform="translate(669.3 997) rotate(-90) scale(0.92 1)" font-size="7.2" text-anchor="middle">8,80 m²</text>
<rect class="tgp" x="673" y="985.7" width="11.6" height="28.6"/>
<text transform="translate(681.3 1000) rotate(-90) scale(0.85 1)" font-size="7" text-anchor="middle" class="pkt">+3,000</text>
<text transform="translate(698.3 998.3) rotate(-90)" font-size="5.3" class="sm" textLength="50" lengthAdjust="spacingAndGlyphs">NOVÁ KERAMICKÁ</text>
<text transform="translate(705 998.3) rotate(-90)" font-size="5.3" class="sm" textLength="47.5" lengthAdjust="spacingAndGlyphs">DLAŽBA + KERAM.</text>
<text transform="translate(711.7 998.3) rotate(-90)" font-size="5.3" class="sm" textLength="49.5" lengthAdjust="spacingAndGlyphs">OBKLAD DO V. 2m</text>
<text transform="translate(622.3 984.4) rotate(-90)" font-size="5.4" class="sm2" textLength="31.6" lengthAdjust="spacingAndGlyphs">4xPHT 7-200</text>
<path class="t" d="M614.4 992.5L619 989.5L619 984.5"/>
<text transform="translate(717.5 1091.5) rotate(180)" font-size="5.4" class="sm2" textLength="31.6" lengthAdjust="spacingAndGlyphs">4xPHT 7-150</text>
<path class="t" d="M677.5 1077.8L686 1091L691 1091"/>
<path class="d" d="M144.2 569.5L779.8 569.5"/>
<path class="k" d="M145.4 572.3L151 566.7"/>
<path class="d" d="M148.2 566.5L148.2 579"/>
<path class="k" d="M331.87 572.3L337.47 566.7"/>
<path class="d" d="M334.67 566.5L334.67 579"/>
<path class="k" d="M773 572.3L778.6 566.7"/>
<path class="d" d="M775.8 566.5L775.8 579"/>
<text transform="translate(241 572.5) rotate(180) scale(0.71 1)" font-size="8.5" text-anchor="middle">3820</text>
<text transform="translate(555 572.5) rotate(180) scale(0.71 1)" font-size="8.5" text-anchor="middle">9040</text>
<path class="d" d="M147.9 642.6L784 642.6"/>
<path class="k" d="M146.1 645.4L151.7 639.8"/>
<path class="k" d="M327 645.4L332.6 639.8"/>
<path class="k" d="M331.87 645.4L337.47 639.8"/>
<path class="k" d="M347.67 645.4L353.27 639.8"/>
<path class="k" d="M519.09 645.4L524.69 639.8"/>
<path class="k" d="M541.95 645.4L547.55 639.8"/>
<path class="k" d="M755.43 645.4L761.03 639.8"/>
<path class="k" d="M777.32 645.4L782.92 639.8"/>
<text transform="translate(239 645.1) rotate(180) scale(0.71 1)" font-size="8.5" text-anchor="middle">3720</text>
<text transform="translate(316 634.9) rotate(180) scale(0.71 1)" font-size="8.5" text-anchor="middle">100</text>
<text transform="translate(361 633.1) rotate(180) scale(0.71 1)" font-size="8.5" text-anchor="middle">325</text>
<text transform="translate(436 645.1) rotate(180) scale(0.71 1)" font-size="8.5" text-anchor="middle">3525</text>
<text transform="translate(511.5 633.1) rotate(180) scale(0.71 1)" font-size="8.5" text-anchor="middle">470</text>
<text transform="translate(607.5 645.1) rotate(180) scale(0.71 1)" font-size="8.5" text-anchor="middle">4390</text>
<text transform="translate(767.5 645.6) rotate(180) scale(0.71 1)" font-size="8.5" text-anchor="middle">450</text>
<path class="d" d="M325.8 743.1L786 743.1"/>
<path class="k" d="M327 745.9L332.6 740.3"/>
<path class="k" d="M347.67 745.9L353.27 740.3"/>
<path class="k" d="M519.09 745.9L524.69 740.3"/>
<path class="k" d="M634.6 745.9L640.2 740.3"/>
<path class="k" d="M673.5 745.9L679.1 740.3"/>
<path class="k" d="M755.43 745.9L761.03 740.3"/>
<path class="k" d="M772.2 745.9L777.8 740.3"/>
<path class="k" d="M778.2 745.9L783.8 740.3"/>
<text transform="translate(361.5 733.6) rotate(180) scale(0.71 1)" font-size="8.5" text-anchor="middle">425</text>
<text transform="translate(436 745.6) rotate(180) scale(0.71 1)" font-size="8.5" text-anchor="middle">3525</text>
<text transform="translate(605.7 745.6) rotate(180) scale(0.71 1)" font-size="8.5" text-anchor="middle">2360</text>
<text transform="translate(655.5 734.1) rotate(180) scale(0.71 1)" font-size="8.5" text-anchor="middle">1970</text>
<text transform="translate(656.5 745.8) rotate(180) scale(0.71 1)" font-size="8.5" text-anchor="middle">800</text>
<text transform="translate(749 734.1) rotate(180) scale(0.71 1)" font-size="8.5" text-anchor="middle">330</text>
<text transform="translate(729.5 745.8) rotate(180) scale(0.71 1)" font-size="8.5" text-anchor="middle">1700</text>
<text transform="translate(788 734.1) rotate(180) scale(0.71 1)" font-size="8.5" text-anchor="middle">120</text>
<path class="d" d="M144.9 770.6L333.8 770.6"/>
<path class="k" d="M146.1 773.4L151.7 767.8"/>
<path class="d" d="M148.9 762.6L148.9 773.6"/>
<path class="k" d="M327 773.4L332.6 767.8"/>
<path class="d" d="M329.8 762.6L329.8 773.6"/>
<text transform="translate(239 773.3) rotate(180) scale(0.71 1)" font-size="8.5" text-anchor="middle">3720</text>
<path class="d" d="M346 865.6L790 865.6"/>
<path class="k" d="M347.67 868.4L353.27 862.8"/>
<path class="k" d="M519.09 868.4L524.69 862.8"/>
<path class="k" d="M530.8 868.4L536.4 862.8"/>
<path class="k" d="M633.1 868.4L638.7 862.8"/>
<path class="k" d="M689.1 868.4L694.7 862.8"/>
<path class="k" d="M696.7 868.4L702.3 862.8"/>
<path class="k" d="M749.1 868.4L754.7 862.8"/>
<path class="k" d="M765.2 868.4L770.8 862.8"/>
<path class="k" d="M771 868.4L776.6 862.8"/>
<text transform="translate(436 868.1) rotate(180) scale(0.71 1)" font-size="8.5" text-anchor="middle">3525</text>
<text transform="translate(512 856.1) rotate(180) scale(0.71 1)" font-size="8.5" text-anchor="middle">240</text>
<text transform="translate(587.6 868.3) rotate(180) scale(0.71 1)" font-size="8.5" text-anchor="middle">2095</text>
<text transform="translate(645 868.3) rotate(180) scale(0.71 1)" font-size="8.5" text-anchor="middle">1155</text>
<text transform="translate(684.8 856.6) rotate(180) scale(0.71 1)" font-size="8.5" text-anchor="middle">150</text>
<text transform="translate(731.5 868.3) rotate(180) scale(0.71 1)" font-size="8.5" text-anchor="middle">1970</text>
<text transform="translate(758 868.3) rotate(180) scale(0.71 1)" font-size="8.5" text-anchor="middle">330</text>
<text transform="translate(781 856.6) rotate(180) scale(0.71 1)" font-size="8.5" text-anchor="middle">120</text>
<path class="d" d="M205.2 933L333.8 933"/>
<path class="k" d="M206.4 935.8L212 930.2"/>
<path class="k" d="M327 935.8L332.6 930.2"/>
<text transform="translate(268.9 936) rotate(180) scale(0.71 1)" font-size="8.5" text-anchor="middle">2480</text>
<path class="d" d="M649.8 933.2L758 933.2"/>
<path class="k" d="M647 936L652.6 930.4"/>
<path class="k" d="M684.2 936L689.8 930.4"/>
<path class="k" d="M749.6 936L755.2 930.4"/>
<text transform="translate(669.2 924.5) rotate(180) scale(0.71 1)" font-size="8.5" text-anchor="middle">1970</text>
<text transform="translate(669.8 936.9) rotate(180) scale(0.71 1)" font-size="8.5" text-anchor="middle">700</text>
<text transform="translate(707.5 936.7) rotate(180) scale(0.71 1)" font-size="8.5" text-anchor="middle">1350</text>
<text transform="translate(738.5 924) rotate(180) scale(0.71 1)" font-size="8.5" text-anchor="middle">420</text>
<path class="d" d="M205.2 1018.6L597.86 1018.6"/>
<path class="k" d="M206.4 1021.4L212 1015.8"/>
<path class="k" d="M218.6 1021.4L224.2 1015.8"/>
<path class="k" d="M233.2 1021.4L238.8 1015.8"/>
<path class="k" d="M327 1021.4L332.6 1015.8"/>
<text transform="translate(215.5 1008.1) rotate(180) scale(0.71 1)" font-size="8.5" text-anchor="middle">250</text>
<text transform="translate(228.3 1022.1) rotate(180) scale(0.71 1)" font-size="8.5" text-anchor="middle">300</text>
<text transform="translate(271 1022.1) rotate(180) scale(0.71 1)" font-size="8.5" text-anchor="middle">1930</text>
<text transform="translate(433 1022.1) rotate(180) scale(0.71 1)" font-size="8.5" text-anchor="middle">5430</text>
<path class="d" d="M581 1018.6L791 1018.6"/>
<path class="k" d="M591.7 1021.4L597.3 1015.8"/>
<path class="k" d="M597.8 1021.4L603.4 1015.8"/>
<path class="k" d="M611.5 1021.4L617.1 1015.8"/>
<path class="k" d="M749.6 1021.4L755.2 1015.8"/>
<path class="k" d="M764.2 1021.4L769.8 1015.8"/>
<path class="k" d="M770.4 1021.4L776 1015.8"/>
<text transform="translate(586.5 1009.6) rotate(180) scale(0.71 1)" font-size="8.5" text-anchor="middle">120</text>
<text transform="translate(623.2 1009.6) rotate(180) scale(0.71 1)" font-size="8.5" text-anchor="middle">300</text>
<text transform="translate(684.2 1022.3) rotate(180) scale(0.71 1)" font-size="8.5" text-anchor="middle">2840</text>
<text transform="translate(736.8 1011.1) rotate(180) scale(0.71 1)" font-size="8.5" text-anchor="middle">300</text>
<text transform="translate(781 1007.1) rotate(180) scale(0.71 1)" font-size="8.5" text-anchor="middle">120</text>
<path class="d" d="M205.2 1098.6L792 1098.6"/>
<path class="k" d="M206.4 1101.4L212 1095.8"/>
<path class="d" d="M209.2 1087.6L209.2 1101.6"/>
<path class="k" d="M327 1101.4L332.6 1095.8"/>
<path class="d" d="M329.8 1087.6L329.8 1101.6"/>
<path class="k" d="M591.7 1101.4L597.3 1095.8"/>
<path class="d" d="M594.5 1087.6L594.5 1101.6"/>
<path class="k" d="M764.2 1101.4L769.8 1095.8"/>
<path class="d" d="M767 1087.6L767 1101.6"/>
<path class="k" d="M769.6 1101.4L775.2 1095.8"/>
<path class="d" d="M772.4 1087.6L772.4 1101.6"/>
<path class="k" d="M775.6 1101.4L781.2 1095.8"/>
<path class="d" d="M778.4 1087.6L778.4 1101.6"/>
<text transform="translate(268.9 1101.5) rotate(180) scale(0.71 1)" font-size="8.5" text-anchor="middle">2480</text>
<text transform="translate(462.2 1101.5) rotate(180) scale(0.71 1)" font-size="8.5" text-anchor="middle">5430</text>
<text transform="translate(699.7 1101.5) rotate(180) scale(0.71 1)" font-size="8.5" text-anchor="middle">3560</text>
<text transform="translate(761 1101.5) rotate(180) scale(0.71 1)" font-size="8.5" text-anchor="middle">110</text>
<text transform="translate(786.5 1089.5) rotate(180) scale(0.71 1)" font-size="8.5" text-anchor="middle">120</text>
<path class="d" d="M205.2 1123.5L777.2 1123.5"/>
<path class="k" d="M206.4 1126.3L212 1120.7"/>
<path class="d" d="M209.2 1112.5L209.2 1126.5"/>
<path class="k" d="M218.6 1126.3L224.2 1120.7"/>
<path class="d" d="M221.4 1112.5L221.4 1126.5"/>
<path class="k" d="M233.2 1126.3L238.8 1120.7"/>
<path class="d" d="M236 1112.5L236 1126.5"/>
<path class="k" d="M591.7 1126.3L597.3 1120.7"/>
<path class="d" d="M594.5 1112.5L594.5 1126.5"/>
<path class="k" d="M635.3 1126.3L640.9 1120.7"/>
<path class="d" d="M638.1 1112.5L638.1 1126.5"/>
<path class="k" d="M693.7 1126.3L699.3 1120.7"/>
<path class="d" d="M696.5 1112.5L696.5 1126.5"/>
<path class="k" d="M770.4 1126.3L776 1120.7"/>
<path class="d" d="M773.2 1112.5L773.2 1126.5"/>
<text transform="translate(217 1126.4) rotate(180) scale(0.71 1)" font-size="8.5" text-anchor="middle">250</text>
<text transform="translate(230.5 1126.4) rotate(180) scale(0.71 1)" font-size="8.5" text-anchor="middle">300</text>
<text transform="translate(414.5 1126.4) rotate(180) scale(0.71 1)" font-size="8.5" text-anchor="middle">7360</text>
<text transform="translate(616 1126.4) rotate(180) scale(0.71 1)" font-size="8.5" text-anchor="middle">910</text>
<text transform="translate(680.5 1126.4) rotate(180) scale(0.71 1)" font-size="8.5" text-anchor="middle">1200</text>
<text transform="translate(734.5 1126.4) rotate(180) scale(0.71 1)" font-size="8.5" text-anchor="middle">1570</text>
<text transform="translate(682 1113.8) rotate(180) scale(0.71 1)" font-size="8.5" text-anchor="middle">700 (1580)</text>
<path class="d" d="M590.5 1147.6L782.9 1147.6"/>
<path class="k" d="M591.7 1150.4L597.3 1144.8"/>
<path class="d" d="M594.5 1136.6L594.5 1150.6"/>
<path class="k" d="M776.1 1150.4L781.7 1144.8"/>
<path class="d" d="M778.9 1136.6L778.9 1150.6"/>
<text transform="translate(686.2 1150.5) rotate(180) scale(0.71 1)" font-size="8.5" text-anchor="middle">3790</text>
<path class="d" d="M125.4 606.3L125.4 727.61"/>
<path class="k" d="M122.6 607.5L128.2 613.1"/>
<path class="d" d="M122.4 610.3L134.9 610.3"/>
<path class="k" d="M122.6 720.81L128.2 726.41"/>
<path class="d" d="M122.4 723.61L134.9 723.61"/>
<text transform="translate(121.5 667.4) rotate(-90) scale(0.71 1)" font-size="8.5" text-anchor="middle">2330</text>
<path class="d" d="M197.8 606.3L197.8 1087.2"/>
<path class="k" d="M195 607.5L200.6 613.1"/>
<path class="k" d="M195 720.81L200.6 726.41"/>
<path class="k" d="M195 903.9L200.6 909.5"/>
<path class="k" d="M195 1081.4L200.6 1087"/>
<text transform="translate(194.1 666.9) rotate(-90) scale(0.71 1)" font-size="8.5" text-anchor="middle">2330</text>
<text transform="translate(194.1 814.4) rotate(-90) scale(0.71 1)" font-size="8.5" text-anchor="middle">3765</text>
<text transform="translate(194.1 1010.4) rotate(-90) scale(0.71 1)" font-size="8.5" text-anchor="middle">3650</text>
<path class="d" d="M256.7 606.3L256.7 1087.2"/>
<path class="k" d="M253.9 607.5L259.5 613.1"/>
<path class="k" d="M253.9 903.9L259.5 909.5"/>
<path class="k" d="M253.9 918.49L259.5 924.09"/>
<path class="k" d="M253.9 1054.65L259.5 1060.25"/>
<path class="k" d="M253.9 1069.24L259.5 1074.84"/>
<path class="k" d="M253.9 1081.4L259.5 1087"/>
<text transform="translate(253 751.2) rotate(-90) scale(0.71 1)" font-size="8.5" text-anchor="middle">6095</text>
<text transform="translate(253 914.4) rotate(-90) scale(0.71 1)" font-size="8.5" text-anchor="middle">300</text>
<text transform="translate(253 989.9) rotate(-90) scale(0.71 1)" font-size="8.5" text-anchor="middle">2800</text>
<text transform="translate(253 1065.2) rotate(-90) scale(0.71 1)" font-size="8.5" text-anchor="middle">300</text>
<text transform="translate(253 1078.7) rotate(-90) scale(0.71 1)" font-size="8.5" text-anchor="middle">250</text>
<path class="d" d="M307 606.3L307 1087.2"/>
<path class="k" d="M304.2 607.5L309.8 613.1"/>
<path class="k" d="M304.2 707.68L309.8 713.28"/>
<path class="k" d="M304.2 787.92L309.8 793.52"/>
<path class="k" d="M304.2 903.9L309.8 909.5"/>
<path class="k" d="M304.2 909.74L309.8 915.34"/>
<path class="k" d="M304.2 1081.4L309.8 1087"/>
<text transform="translate(302.9 660.4) rotate(-90) scale(0.71 1)" font-size="8.5" text-anchor="middle">2060</text>
<text transform="translate(302.9 749.9) rotate(-90) scale(0.71 1)" font-size="8.5" text-anchor="middle">1650</text>
<text transform="translate(315.3 749.9) rotate(-90) scale(0.71 1)" font-size="8.5" text-anchor="middle">1400 (650)</text>
<text transform="translate(302.9 849) rotate(-90) scale(0.71 1)" font-size="8.5" text-anchor="middle">2385</text>
<text transform="translate(316.3 897.4) rotate(-90) scale(0.71 1)" font-size="8.5" text-anchor="middle">120</text>
<text transform="translate(302.9 991.2) rotate(-90) scale(0.71 1)" font-size="8.5" text-anchor="middle">3530</text>
<path class="d" d="M394.4 622.1L394.4 926"/>
<path class="k" d="M391.6 623.3L397.2 628.9"/>
<path class="k" d="M391.6 889.55L397.2 895.15"/>
<path class="k" d="M391.6 903.9L397.2 909.5"/>
<path class="k" d="M391.6 909.74L397.2 915.34"/>
<text transform="translate(390.7 758.8) rotate(-90) scale(0.71 1)" font-size="8.5" text-anchor="middle">5475</text>
<text transform="translate(403.5 882.4) rotate(-90) scale(0.71 1)" font-size="8.5" text-anchor="middle">300</text>
<text transform="translate(403.5 922.6) rotate(-90) scale(0.71 1)" font-size="8.5" text-anchor="middle">100</text>
<path class="d" d="M560 622.1L560 1081.63"/>
<path class="k" d="M557.2 623.3L562.8 628.9"/>
<path class="k" d="M557.2 669.99L562.8 675.59"/>
<path class="k" d="M557.2 766.76L562.8 772.36"/>
<path class="k" d="M557.2 776.49L562.8 782.09"/>
<path class="k" d="M557.2 888.34L562.8 893.94"/>
<path class="k" d="M557.2 903.9L562.8 909.5"/>
<path class="k" d="M557.2 909.74L562.8 915.34"/>
<path class="k" d="M557.2 1074.83L562.8 1080.43"/>
<text transform="translate(556.1 654.7) rotate(-90) scale(0.71 1)" font-size="8.5" text-anchor="middle">960</text>
<text transform="translate(556.1 713.8) rotate(-90) scale(0.71 1)" font-size="8.5" text-anchor="middle">1990</text>
<text transform="translate(568.9 759.3) rotate(-90) scale(0.71 1)" font-size="8.5" text-anchor="middle">200</text>
<text transform="translate(556.1 845.2) rotate(-90) scale(0.71 1)" font-size="8.5" text-anchor="middle">2300</text>
<text transform="translate(568.5 882) rotate(-90) scale(0.71 1)" font-size="8.5" text-anchor="middle">320</text>
<text transform="translate(556.1 919.4) rotate(-90) scale(0.71 1)" font-size="8.5" text-anchor="middle">100</text>
<text transform="translate(556.1 995) rotate(-90) scale(0.71 1)" font-size="8.5" text-anchor="middle">3415</text>
<path class="d" d="M580.3 902.7L580.3 1081.63"/>
<path class="k" d="M577.5 903.9L583.1 909.5"/>
<path class="k" d="M577.5 940.13L583.1 945.73"/>
<path class="k" d="M577.5 1020.37L583.1 1025.97"/>
<path class="k" d="M577.5 1074.83L583.1 1080.43"/>
<text transform="translate(575.7 927) rotate(-90) scale(0.71 1)" font-size="8.5" text-anchor="middle">745</text>
<text transform="translate(575.7 982.9) rotate(-90) scale(0.71 1)" font-size="8.5" text-anchor="middle">1650</text>
<text transform="translate(587.5 985.4) rotate(-90) scale(0.71 1)" font-size="8.5" text-anchor="middle">700 (1580)</text>
<text transform="translate(575.7 1050.7) rotate(-90) scale(0.71 1)" font-size="8.5" text-anchor="middle">1120</text>
<path class="d" d="M667 765.56L667 909.7"/>
<path class="k" d="M664.2 776.49L669.8 782.09"/>
<path class="k" d="M664.2 888.34L669.8 893.94"/>
<text transform="translate(662.7 797.5) rotate(-90) scale(0.71 1)" font-size="8.5" text-anchor="middle">760</text>
<text transform="translate(662.7 823.9) rotate(-90) scale(0.71 1)" font-size="8.5" text-anchor="middle">475</text>
<text transform="translate(662.7 854.1) rotate(-90) scale(0.71 1)" font-size="8.5" text-anchor="middle">1065</text>
<text transform="translate(674.5 797.5) rotate(-90) scale(0.71 1)" font-size="8.5" text-anchor="middle">1800</text>
<text transform="translate(676.3 884) rotate(-90) scale(0.71 1)" font-size="8.5" text-anchor="middle">320</text>
<path class="k" d="M664.2 808.4L669.8 814"/>
<path class="k" d="M664.2 834.7L669.8 840.3"/>
<path class="k" d="M664.2 766.76L669.8 772.36"/>
<path class="k" d="M664.2 903.9L669.8 909.5"/>
<text transform="translate(672.7 759.2) rotate(-90) scale(0.71 1)" font-size="8.5" text-anchor="middle">200</text>
<path class="d" d="M720.3 765.56L720.3 891.14"/>
<path class="k" d="M717.5 776.49L723.1 782.09"/>
<path class="k" d="M717.5 809.6L723.1 815.2"/>
<text transform="translate(715.9 797.9) rotate(-90) scale(0.71 1)" font-size="8.5" text-anchor="middle">600</text>
<text transform="translate(727.3 797.9) rotate(-90) scale(0.71 1)" font-size="8.5" text-anchor="middle">1970</text>
<text transform="translate(735.7 791.2) rotate(-90) scale(0.71 1)" font-size="8.5" text-anchor="middle">90</text>
<text transform="translate(727.5 840) rotate(-90) scale(0.71 1)" font-size="8.5" text-anchor="middle">1410</text>
<text transform="translate(743.7 835.3) rotate(-90) scale(0.71 1)" font-size="8.5" text-anchor="middle">2300</text>
<text transform="translate(662.7 683.9) rotate(-90) scale(0.71 1)" font-size="8.5" text-anchor="middle">2950</text>
<path class="d" d="M747.5 626.1L747.5 782.29"/>
<path class="k" d="M744.7 623.3L750.3 628.9"/>
<path class="k" d="M744.7 766.76L750.3 772.36"/>
<path class="k" d="M744.7 776.49L750.3 782.09"/>
<text transform="translate(742.4 697.4) rotate(-90) scale(0.71 1)" font-size="8.5" text-anchor="middle">2950</text>
<text transform="translate(754.7 761.4) rotate(-90) scale(0.71 1)" font-size="8.5" text-anchor="middle">200</text>
<path class="d" d="M667 626.1L667 769.56"/>
<path class="k" d="M664.2 623.3L669.8 628.9"/>
<path class="d" d="M636.9 891.14L636.9 1060.45"/>
<path class="k" d="M634.1 903.9L639.7 909.5"/>
<path class="k" d="M634.1 1054.65L639.7 1060.25"/>
<text transform="translate(632.7 976) rotate(-90) scale(0.71 1)" font-size="8.5" text-anchor="middle">3095</text>
<text transform="translate(632.9 1046.4) rotate(-90) scale(0.71 1)" font-size="8.5" text-anchor="middle">300</text>
<text transform="translate(632.7 1090.1) rotate(-90) scale(0.71 1)" font-size="8.5" text-anchor="middle">120</text>
<path class="d" d="M649.8 891.14L649.8 1060.45"/>
<path class="k" d="M647 904.5L652.6 910.1"/>
<path class="k" d="M647 941.2L652.6 946.8"/>
<path class="k" d="M647 982.5L652.6 988.1"/>
<path class="k" d="M647 1023.9L652.6 1029.5"/>
<path class="k" d="M647 1054.65L652.6 1060.25"/>
<path class="k" d="M647 888.34L652.6 893.94"/>
<text transform="translate(645.5 897.4) rotate(-90) scale(0.71 1)" font-size="8.5" text-anchor="middle">55</text>
<text transform="translate(645.5 926.9) rotate(-90) scale(0.71 1)" font-size="8.5" text-anchor="middle">750</text>
<text transform="translate(645.5 965.9) rotate(-90) scale(0.71 1)" font-size="8.5" text-anchor="middle">850</text>
<text transform="translate(645.5 1007.4) rotate(-90) scale(0.71 1)" font-size="8.5" text-anchor="middle">850</text>
<text transform="translate(645.5 1042.4) rotate(-90) scale(0.71 1)" font-size="8.5" text-anchor="middle">590</text>
<path class="d" d="M747.6 888.14L747.6 1092"/>
<path class="k" d="M744.8 903.9L750.4 909.5"/>
<path class="k" d="M744.8 1054.65L750.4 1060.25"/>
<text transform="translate(746.9 1086.4) rotate(-90) scale(0.71 1)" font-size="8.5" text-anchor="middle">120</text>
<text transform="translate(743.2 958.4) rotate(-90) scale(0.71 1)" font-size="8.5" text-anchor="middle">3095</text>
<text transform="translate(738.3 1047.4) rotate(-90) scale(0.71 1)" font-size="8.5" text-anchor="middle">300</text>
<text transform="translate(716.2 898.4) rotate(-90) scale(0.71 1)" font-size="8.5" text-anchor="middle">200</text>
<text transform="translate(743.7 897.4) rotate(-90) scale(0.71 1)" font-size="8.5" text-anchor="middle">320</text>
<path class="d" d="M797.6 606.3L797.6 908.73"/>
<path class="k" d="M794.8 607.5L800.4 613.1"/>
<path class="d" d="M786.6 610.3L800.6 610.3"/>
<path class="k" d="M794.8 660.99L800.4 666.59"/>
<path class="d" d="M786.6 663.79L800.6 663.79"/>
<path class="k" d="M794.8 707.19L800.4 712.79"/>
<path class="d" d="M786.6 709.99L800.6 709.99"/>
<path class="k" d="M794.8 782.32L800.4 787.92"/>
<path class="d" d="M786.6 785.12L800.6 785.12"/>
<path class="k" d="M794.8 815.64L800.4 821.24"/>
<path class="d" d="M786.6 818.44L800.6 818.44"/>
<path class="k" d="M794.8 864.27L800.4 869.87"/>
<path class="d" d="M786.6 867.07L800.6 867.07"/>
<path class="k" d="M794.8 902.93L800.4 908.53"/>
<path class="d" d="M786.6 905.73L800.6 905.73"/>
<text transform="translate(792.9 636.4) rotate(-90) scale(0.71 1)" font-size="8.5" text-anchor="middle">1100</text>
<text transform="translate(792.9 686.6) rotate(-90) scale(0.71 1)" font-size="8.5" text-anchor="middle">950</text>
<text transform="translate(805.3 687.4) rotate(-90) scale(0.71 1)" font-size="8.5" text-anchor="middle">1500 (850)</text>
<text transform="translate(792.9 761.4) rotate(-90) scale(0.71 1)" font-size="8.5" text-anchor="middle">1545</text>
<text transform="translate(793.3 801.9) rotate(-90) scale(0.71 1)" font-size="8.5" text-anchor="middle">685</text>
<text transform="translate(793.3 842.9) rotate(-90) scale(0.71 1)" font-size="8.5" text-anchor="middle">1000</text>
<text transform="translate(805.7 842.9) rotate(-90) scale(0.71 1)" font-size="8.5" text-anchor="middle">700 (1650)</text>
<text transform="translate(793.3 886.9) rotate(-90) scale(0.71 1)" font-size="8.5" text-anchor="middle">795</text>
<path class="d" d="M835.9 606.3L835.9 1090.4"/>
<path class="k" d="M833.1 607.5L838.7 613.1"/>
<path class="d" d="M824.9 610.3L838.9 610.3"/>
<path class="k" d="M833.1 903.9L838.7 909.5"/>
<path class="d" d="M824.9 906.7L838.9 906.7"/>
<path class="k" d="M833.1 1069L838.7 1074.6"/>
<path class="d" d="M824.9 1071.8L838.9 1071.8"/>
<path class="k" d="M833.1 1074.83L838.7 1080.43"/>
<path class="d" d="M824.9 1077.63L838.9 1077.63"/>
<text transform="translate(831.5 758.8) rotate(-90) scale(0.71 1)" font-size="8.5" text-anchor="middle">6095</text>
<text transform="translate(831.7 989.9) rotate(-90) scale(0.71 1)" font-size="8.5" text-anchor="middle">3395</text>
<text transform="translate(844.9 1088.4) rotate(-90) scale(0.71 1)" font-size="8.5" text-anchor="middle">120</text>
<path class="d" d="M849.8 606.3L849.8 1081.63"/>
<path class="k" d="M847 607.5L852.6 613.1"/>
<path class="d" d="M838.8 610.3L852.8 610.3"/>
<path class="k" d="M847 1074.83L852.6 1080.43"/>
<path class="d" d="M838.8 1077.63L852.8 1077.63"/>
<text transform="translate(845.5 843.9) rotate(-90) scale(0.71 1)" font-size="8.5" text-anchor="middle">9610</text>
<circle class="rc" cx="287.4" cy="734.3" r="8.6"/>
<text transform="translate(290.64 734.3) rotate(-90)" font-size="9" text-anchor="middle" class="rt">M1</text>
<path class="t" d="M296 734.3L333.8 734.3"/>
<circle class="rc" cx="287.4" cy="807.2" r="8.6"/>
<text transform="translate(290.64 807.2) rotate(-90)" font-size="9" text-anchor="middle" class="rt">S4</text>
<path class="t" d="M296 807.2L333.8 807.2"/>
<circle class="rc" cx="272.7" cy="999.7" r="8.6"/>
<text transform="translate(275.94 999.7) rotate(-90)" font-size="9" text-anchor="middle" class="rt">S8</text>
<circle class="rc" cx="430.5" cy="935.4" r="8.6"/>
<text transform="translate(433.74 935.4) rotate(-90)" font-size="9" text-anchor="middle" class="rt">S4</text>
<path class="t" d="M430.5 906.7L430.5 926.8"/>
<circle class="rc" cx="464.7" cy="998.4" r="8.6"/>
<text transform="translate(467.94 998.4) rotate(-90)" font-size="9" text-anchor="middle" class="rt">S6</text>
<circle class="rc" cx="569.8" cy="959.8" r="8.6"/>
<text transform="translate(573.04 959.8) rotate(-90)" font-size="9" text-anchor="middle" class="rt">M1</text>
<path class="t" d="M578.4 959.8L600 959.8"/>
<circle class="rc" cx="569.8" cy="1034.3" r="8.6"/>
<text transform="translate(573.04 1034.3) rotate(-90)" font-size="9" text-anchor="middle" class="rt">S2</text>
<path class="t" d="M578.4 1034.3L594.5 1034.3"/>
<circle class="rc" cx="656" cy="1110.8" r="8.6"/>
<text transform="translate(659.24 1110.8) rotate(-90)" font-size="9" text-anchor="middle" class="rt">M1</text>
<path class="t" d="M656 1071L656 1102.2"/>
<circle class="rc" cx="801.4" cy="1041.8" r="8.6"/>
<text transform="translate(804.64 1041.8) rotate(-90)" font-size="9" text-anchor="middle" class="rt">S2</text>
<path class="t" d="M773.2 1041.8L792.8 1041.8"/>
<circle class="rc" cx="818.8" cy="823.3" r="8.6"/>
<text transform="translate(822.04 823.3) rotate(-90)" font-size="9" text-anchor="middle" class="rt">M1</text>
<path class="t" d="M767 823.3L810.2 823.3"/>
<circle class="rc" cx="819.1" cy="670.2" r="8.6"/>
<text transform="translate(822.34 670.2) rotate(-90)" font-size="9" text-anchor="middle" class="rt">M1</text>
<path class="t" d="M775 670.2L810.5 670.2"/>
<circle class="rc" cx="819.1" cy="724.3" r="8.6"/>
<text transform="translate(822.34 724.3) rotate(-90)" font-size="9" text-anchor="middle" class="rt">S2</text>
<path class="t" d="M781 724.3L810.5 724.3"/>
<text transform="translate(429.3 786.5) rotate(-90) scale(0.95 1)" font-size="8.4" text-anchor="middle">POKOJ</text>
<text transform="translate(438.5 784) rotate(-90) scale(0.92 1)" font-size="7.2" text-anchor="middle">19,30 m²</text>
<rect class="tgp" x="444.4" y="776" width="12.7" height="30.7"/>
<text transform="translate(453.25 791.35) rotate(-90) scale(0.85 1)" font-size="7" text-anchor="middle" class="pkt">+3,000</text>
<text transform="translate(605.3 698) rotate(-90) scale(0.95 1)" font-size="8.4" text-anchor="middle">KUCHYNĚ</text>
<text transform="translate(614.6 695.5) rotate(-90) scale(0.92 1)" font-size="7.2" text-anchor="middle">13,61 m²</text>
<rect class="tgp" x="619.8" y="684" width="11.5" height="30.5"/>
<text transform="translate(628.05 699.25) rotate(-90) scale(0.85 1)" font-size="7" text-anchor="middle" class="pkt">+3,000</text>
<path class="dd" d="M122 987.7L174 987.7"/>
<path class="t" d="M135 987.7L135 1021"/>
<path class="t" d="M132.3 1003.5L135 987.7L137.7 1003.5"/>
<text transform="translate(130.6 1022.5) rotate(-90)" font-size="13.6" class="sec">A</text>
<path class="dd" d="M841 987.7L890.5 987.7"/>
<path class="t" d="M882.8 987.7L882.8 1021"/>
<path class="t" d="M880.1 1003.5L882.8 987.7L885.5 1003.5"/>
<text transform="translate(879 1021.5) rotate(-90)" font-size="13" class="sec">A</text>
<path class="dd" d="M707 541L707 578.2"/>
<path class="t" d="M707 546.7L741.5 546.7"/>
<path class="t" d="M722 542.2L707 546.7L722 551.2"/>
<text transform="translate(740.3 542) rotate(-90)" font-size="13.6" class="sec">B</text>
<path class="dd" d="M706.8 1141L706.8 1177"/>
<path class="t" d="M706.8 1170L741.6 1170"/>
<path class="t" d="M721.8 1165.5L706.8 1170L721.8 1174.5"/>
<text transform="translate(739.2 1185.6) rotate(-90)" font-size="13.6" class="sec">B</text>
<text transform="translate(46.9 1173.4) rotate(-90)" font-size="14.4" class="ttl" textLength="101.6" lengthAdjust="spacingAndGlyphs">PŮDORYS 2.NP</text>
</svg>
</body></html>
